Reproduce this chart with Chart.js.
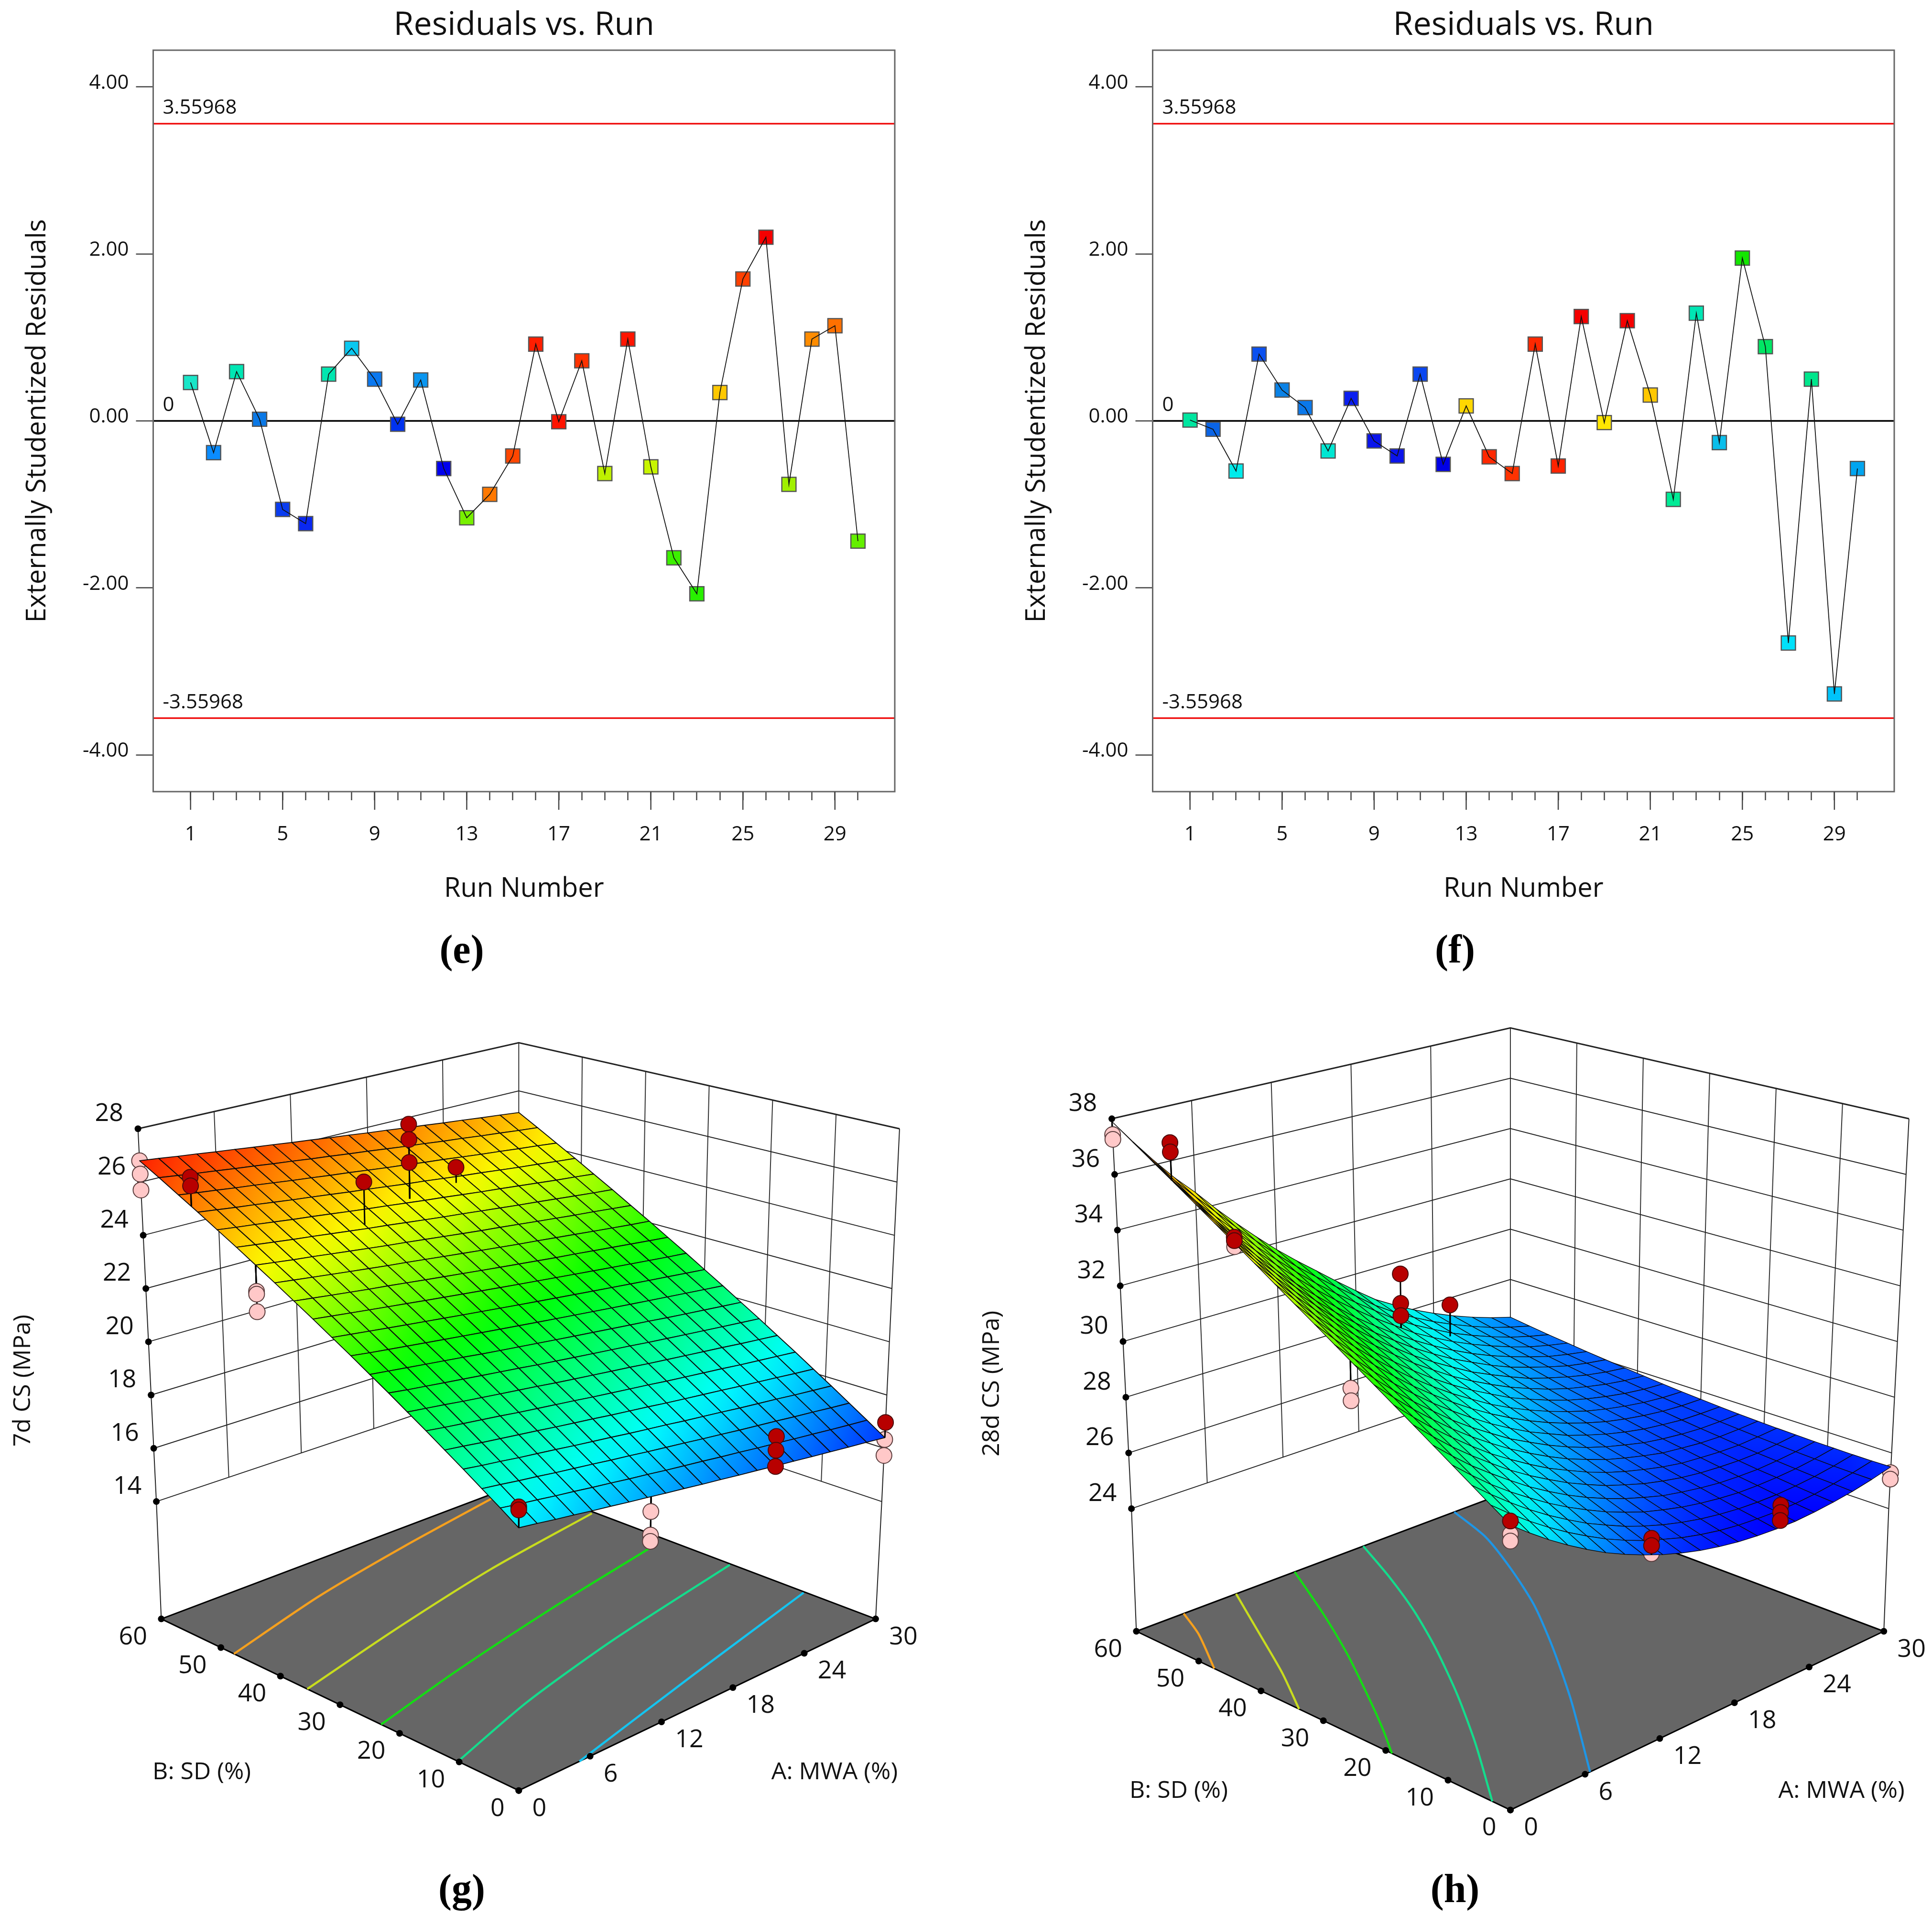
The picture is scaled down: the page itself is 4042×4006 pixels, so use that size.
<!DOCTYPE html>
<html lang="en">
<head>
<meta charset="UTF-8">
<title>Residuals vs. Run and response surfaces</title>
<script src="https://cdn.jsdelivr.net/npm/chart.js"></script>
<style>
  body { margin: 0; background: #fff; }
  #page { position: relative; width: 4042px; height: 4006px; overflow: hidden; }
  canvas { position: absolute; }
  .cap { position: absolute; font: bold 84px "Liberation Serif", serif; color: #000; transform: translate(-50%, -50%); }
</style>
</head>
<body>
<div id="page">
  <canvas id="chartE" width="2000" height="2000" style="left:0;top:0"></canvas>
  <canvas id="chartF" width="2000" height="2000" style="left:2091px;top:0"></canvas>
  <canvas id="chartG" width="2000" height="1926" style="left:0;top:2080px"></canvas>
  <canvas id="chartH" width="2000" height="1926" style="left:2040px;top:2080px"></canvas>
  <div class="cap" style="left:966px;top:1985px">(e)</div>
  <div class="cap" style="left:3044px;top:1985px">(f)</div>
  <div class="cap" style="left:966px;top:3950px">(g)</div>
  <div class="cap" style="left:3044px;top:3950px">(h)</div>
</div>
<script>
// residual panels
const runs = [1,2,3,4,5,6,7,8,9,10,11,12,13,14,15,16,17,18,19,20,21,22,23,24,25,26,27,28,29,30];
const runTickLabels = [1,5,9,13,17,21,25,29];
const residualTicks = [-4,-2,0,2,4];
const limitValue = 3.55968;

const residualsE = [0.46,-0.38,0.59,0.02,-1.06,-1.23,0.56,0.87,0.50,-0.04,0.49,-0.57,-1.16,-0.88,-0.42,0.92,-0.01,0.72,-0.63,0.98,-0.55,-1.64,-2.07,0.34,1.70,2.20,-0.76,0.98,1.14,-1.44];
const colorsE = ['#19e6c8','#0a8cff','#00e6b4','#0a78e6','#0a3cf0','#0a28f0','#00e6b0','#0ac8f0','#0a78f0','#0032f0','#0a96f0','#0000ee','#78f000','#ff7800','#ff4600','#ff1e00','#ff1400','#ff3200','#bef000','#ff1400','#c8f500','#3cf000','#28f000','#ffc800','#ff4000','#f50000','#a0f000','#ff8c00','#ff7000','#64f000'];

const residualsF = [0.01,-0.10,-0.60,0.80,0.37,0.16,-0.36,0.27,-0.24,-0.42,0.56,-0.52,0.18,-0.43,-0.63,0.92,-0.54,1.25,-0.02,1.20,0.31,-0.94,1.29,-0.26,1.95,0.89,-2.66,0.50,-3.27,-0.57];
const colorsF = ['#00e6a0','#0a64e6','#00ebeb','#0a50f0','#0a82e6','#0a78eb','#00e6d2','#0a1ef0','#0a14eb','#0a14eb','#0a46f0','#0000e6','#ffd700','#ff2800','#ff3200','#ff2800','#ff2300','#f50000','#ffe600','#f50000','#ffc800','#00eb96','#00e6b4','#0abeeb','#14e600','#00e664','#00e1fa','#00e68c','#00c3fa','#00a5f0'];

// 3D panels, axis ticks
const tickA = [0,6,12,18,24,30];
const tickB = [0,10,20,30,40,50,60];
const tickZG = [14,16,18,20,22,24,26,28];
const tickZH = [24,26,28,30,32,34,36,38];

// surface heights, rows are B = 0,3,...,60 and columns A = 0,1.5,...,30
const surfaceG = [
[18.30,18.21,18.11,18.02,17.92,17.83,17.73,17.64,17.54,17.45,17.35,17.26,17.16,17.07,16.97,16.88,16.78,16.69,16.59,16.50,16.40],
[18.73,18.63,18.54,18.44,18.35,18.25,18.16,18.06,17.97,17.87,17.78,17.69,17.59,17.50,17.40,17.31,17.21,17.12,17.02,16.93,16.84],
[19.15,19.06,18.96,18.87,18.77,18.68,18.59,18.49,18.40,18.30,18.21,18.12,18.02,17.93,17.83,17.74,17.65,17.55,17.46,17.36,17.27],
[19.58,19.48,19.39,19.29,19.20,19.11,19.01,18.92,18.83,18.73,18.64,18.55,18.45,18.36,18.27,18.17,18.08,17.99,17.89,17.80,17.71],
[20.00,19.91,19.81,19.72,19.63,19.54,19.44,19.35,19.26,19.16,19.07,18.98,18.88,18.79,18.70,18.61,18.51,18.42,18.33,18.23,18.14],
[20.43,20.33,20.24,20.15,20.06,19.96,19.87,19.78,19.69,19.59,19.50,19.41,19.32,19.22,19.13,19.04,18.95,18.85,18.76,18.67,18.58],
[20.85,20.76,20.67,20.57,20.48,20.39,20.30,20.21,20.11,20.02,19.93,19.84,19.75,19.65,19.56,19.47,19.38,19.29,19.19,19.10,19.01],
[21.28,21.18,21.09,21.00,20.91,20.82,20.73,20.64,20.54,20.45,20.36,20.27,20.18,20.09,19.99,19.90,19.81,19.72,19.63,19.54,19.45],
[21.70,21.61,21.52,21.43,21.34,21.25,21.15,21.06,20.97,20.88,20.79,20.70,20.61,20.52,20.43,20.34,20.24,20.15,20.06,19.97,19.88],
[22.13,22.03,21.94,21.85,21.76,21.67,21.58,21.49,21.40,21.31,21.22,21.13,21.04,20.95,20.86,20.77,20.68,20.59,20.50,20.41,20.32],
[22.55,22.46,22.37,22.28,22.19,22.10,22.01,21.92,21.83,21.74,21.65,21.56,21.47,21.38,21.29,21.20,21.11,21.02,20.93,20.84,20.75],
[22.98,22.89,22.80,22.71,22.62,22.53,22.44,22.35,22.26,22.17,22.08,21.99,21.90,21.81,21.72,21.63,21.54,21.45,21.36,21.27,21.19],
[23.40,23.31,23.22,23.13,23.04,22.96,22.87,22.78,22.69,22.60,22.51,22.42,22.33,22.24,22.15,22.07,21.98,21.89,21.80,21.71,21.62],
[23.83,23.74,23.65,23.56,23.47,23.38,23.29,23.21,23.12,23.03,22.94,22.85,22.76,22.67,22.59,22.50,22.41,22.32,22.23,22.14,22.06],
[24.25,24.16,24.07,23.99,23.90,23.81,23.72,23.63,23.55,23.46,23.37,23.28,23.19,23.11,23.02,22.93,22.84,22.75,22.67,22.58,22.49],
[24.68,24.59,24.50,24.41,24.33,24.24,24.15,24.06,23.98,23.89,23.80,23.71,23.63,23.54,23.45,23.36,23.28,23.19,23.10,23.01,22.93],
[25.10,25.01,24.93,24.84,24.75,24.67,24.58,24.49,24.40,24.32,24.23,24.14,24.06,23.97,23.88,23.80,23.71,23.62,23.53,23.45,23.36],
[25.53,25.44,25.35,25.27,25.18,25.09,25.01,24.92,24.83,24.75,24.66,24.57,24.49,24.40,24.31,24.23,24.14,24.05,23.97,23.88,23.80],
[25.95,25.86,25.78,25.69,25.61,25.52,25.43,25.35,25.26,25.18,25.09,25.00,24.92,24.83,24.75,24.66,24.57,24.49,24.40,24.32,24.23],
[26.38,26.29,26.20,26.12,26.03,25.95,25.86,25.78,25.69,25.61,25.52,25.44,25.35,25.26,25.18,25.09,25.01,24.92,24.84,24.75,24.67],
[26.80,26.72,26.63,26.55,26.46,26.38,26.29,26.21,26.12,26.04,25.95,25.87,25.78,25.70,25.61,25.53,25.44,25.36,25.27,25.19,25.10]
];
const surfaceH = [
[28.70,28.21,27.75,27.33,26.94,26.58,26.27,25.99,25.74,25.53,25.35,25.21,25.10,25.03,24.99,24.98,25.02,25.09,25.19,25.33,25.50],
[29.10,28.59,28.11,27.67,27.26,26.89,26.54,26.24,25.97,25.75,25.54,25.38,25.25,25.16,25.11,25.08,25.09,25.14,25.23,25.34,25.49],
[29.51,28.98,28.48,28.01,27.58,27.19,26.82,26.51,26.21,25.96,25.74,25.56,25.41,25.30,25.22,25.18,25.17,25.20,25.26,25.36,25.49],
[29.93,29.37,28.84,28.36,27.92,27.50,27.12,26.78,26.46,26.19,25.94,25.75,25.58,25.45,25.35,25.28,25.26,25.27,25.31,25.39,25.50],
[30.35,29.77,29.22,28.73,28.26,27.81,27.41,27.04,26.71,26.42,26.16,25.94,25.74,25.60,25.48,25.39,25.35,25.33,25.36,25.42,25.51],
[30.78,30.18,29.61,29.09,28.60,28.13,27.71,27.33,26.97,26.66,26.37,26.14,25.92,25.75,25.61,25.51,25.45,25.41,25.41,25.46,25.53],
[31.21,30.59,30.00,29.46,28.94,28.45,28.02,27.61,27.23,26.91,26.60,26.33,26.11,25.92,25.75,25.62,25.55,25.49,25.47,25.50,25.55],
[31.65,31.01,30.40,29.83,29.29,28.79,28.33,27.90,27.51,27.15,26.82,26.55,26.29,26.09,25.91,25.75,25.66,25.58,25.54,25.55,25.58],
[32.09,31.42,30.80,30.21,29.66,29.12,28.64,28.20,27.77,27.41,27.06,26.75,26.48,26.25,26.06,25.88,25.76,25.67,25.61,25.60,25.61],
[32.54,31.85,31.20,30.59,30.02,29.47,28.97,28.50,28.06,27.66,27.29,26.98,26.67,26.43,26.21,26.03,25.88,25.78,25.69,25.66,25.65],
[33.00,32.29,31.62,30.99,30.39,29.82,29.30,28.81,28.35,27.93,27.55,27.20,26.89,26.62,26.38,26.17,26.01,25.88,25.78,25.72,25.70],
[33.46,32.74,32.03,31.39,30.76,30.18,29.63,29.12,28.64,28.21,27.79,27.43,27.10,26.81,26.55,26.32,26.14,25.99,25.87,25.79,25.75],
[33.93,33.19,32.46,31.79,31.15,30.54,29.98,29.44,28.94,28.48,28.06,27.68,27.31,27.01,26.73,26.48,26.28,26.11,25.97,25.87,25.81],
[34.41,33.64,32.90,32.21,31.55,30.91,30.33,29.78,29.25,28.78,28.32,27.92,27.55,27.21,26.92,26.65,26.42,26.24,26.08,25.96,25.88],
[34.89,34.10,33.33,32.62,31.94,31.28,30.68,30.11,29.57,29.06,28.60,28.18,27.77,27.43,27.11,26.81,26.58,26.37,26.19,26.05,25.95],
[35.38,34.57,33.78,33.05,32.35,31.67,31.04,30.45,29.88,29.37,28.87,28.43,28.01,27.65,27.30,26.99,26.74,26.51,26.30,26.15,26.03],
[35.87,35.04,34.24,33.47,32.75,32.05,31.41,30.80,30.20,29.67,29.16,28.69,28.26,27.86,27.50,27.18,26.90,26.65,26.42,26.25,26.11],
[36.37,35.52,34.69,33.92,33.20,32.50,31.83,31.19,30.59,30.03,29.49,29.00,28.50,28.09,27.71,27.37,27.07,26.79,26.55,26.36,26.20],
[36.87,36.00,35.16,34.40,33.68,32.94,32.26,31.60,30.97,30.39,29.84,29.31,28.78,28.33,27.93,27.55,27.23,26.94,26.68,26.47,26.29],
[37.38,36.50,35.66,34.90,34.15,33.41,32.70,32.02,31.37,30.77,30.19,29.63,29.05,28.56,28.14,27.75,27.41,27.10,26.82,26.59,26.39],
[37.90,37.00,36.15,35.35,34.64,33.86,33.13,32.43,31.76,31.14,30.55,29.95,29.37,28.81,28.37,27.96,27.60,27.27,26.98,26.72,26.50]
];

// design points as [A, B, response], above the surface (red) and below it (pink)
const redG = [[0,52,26.75],[0,52,26.43],[10.5,45.6,25.77],[15.6,48.6,27.16],[15.6,48.6,26.57],[15.6,48.6,25.68],[20,50,24.84],[0,0,19.0],[0,0,18.9],[21,0,18.04],[21,0,17.54],[21,0,16.95],[30,0,16.97]];
const pinkG = [[0,60,26.8],[0,60,26.3],[0,60,25.7],[0,42,23.3],[0,42,23.2],[0,42,22.56],[10.8,0,17.1],[10.8,0,16.28],[10.8,0,16.06],[30,0,16.33],[30,0,15.73]];
const redH = [[0,51.3,37.75],[0,51.3,37.42],[0,42,35.1],[0,42,34.98],[17,51,30.85],[17,51,29.75],[17,51,29.29],[21.6,52.6,28.88],[0,0,28.83],[11.1,0,26.44],[11.1,0,26.2],[21.3,0,25.76],[21.3,0,25.51],[21.3,0,25.23]];
const pinkH = [[0,60,37.43],[0,60,37.26],[0,42,34.77],[0,24.6,31.26],[0,24.6,30.84],[0,0,28.41],[0,0,28.19],[11.1,0,25.93],[30,0,25.29],[30,0,25.06]];

// contour lines on the floor
const contourColorsG = ['#f5a01e','#c8dc1e','#14dc14','#14dc8c','#14c4f0'];
const contourAG = [[0,9.5,18.5,27.2],[0,9.2,19.7,29.8],[0,8,18.4,28.5],[0,8.3,17.7,29.9],[5.1,17.6,29.9]];
const contourBG = [[47.8,52.5,56,59],[35.5,39.7,44.1,47.3],[23.1,26.8,31.1,34.9],[10.2,15.2,19.6,24.3],[0,5.9,11.9]];
const contourColorsH = ['#f5a01e','#c8dc1e','#14dc14','#14dc8c','#1e96e6'];
const contourAH = [[0,2.5,3.8],[0,2.55,5.1,8],[0,1.8,4.05,7.1,9.9,12.7],[0,4.3,7.9,11.3,13.9,16.2,18.2],[6.4,11.9,16.1,19.4,22,24.2,25.5]];
const contourBH = [[47.5,55,60],[33.9,41.7,50.3,60],[19,24.1,30.9,40.4,49.9,60],[2.9,14.2,24.3,34.6,43.2,51.8,60],[0,14,25.4,35,43.9,52.4,60]];

// surface colour ramps, heights and colours
const rampZG = [15.8,18.6,21.6,24.2,26.8];
const rampZH = [25,28,31,34.5,37.9];
const rampColors = [[0,0,255],[0,255,255],[0,255,0],[255,255,0],[255,32,0]];

// box corners in view units, order: A0B0, A30B0, A0B60, A30B60
const viewG = {
  floor: [[846,1350],[1428,1059],[263,1059],[846,830]],
  low: [[846,1122],[1438,860],[255,860],[846,654]],
  high: [[846,414],[1467,228],[225,228],[846,82]]
};
const viewH = {
  floor: [[873,1383],[1482,1080],[263,1080],[873,842]],
  low: [[873,1149],[1490,872],[255,872],[873,654]],
  high: [[873,407],[1523,211],[223,211],[873,57]]
};

const FONT = '"Open Sans", sans-serif';

function makeResiduals(id, values, colors) {
  const labelsPlugin = {
    id: 'labels',
    afterDraw(chart) {
      const { ctx, chartArea: area, scales } = chart;
      ctx.save();
      ctx.strokeStyle = '#666';
      ctx.lineWidth = 3;
      ctx.strokeRect(area.left, area.top, area.width, area.height);
      // longer ticks at labelled runs
      ctx.strokeStyle = '#444';
      ctx.lineWidth = 2.5;
      runTickLabels.forEach(v => {
        const x = scales.x.getPixelForValue(v);
        ctx.beginPath();
        ctx.moveTo(x, area.bottom);
        ctx.lineTo(x, area.bottom + 38);
        ctx.stroke();
      });
      ctx.fillStyle = '#111';
      ctx.font = '68px ' + FONT;
      ctx.textAlign = 'center';
      ctx.textBaseline = 'middle';
      ctx.fillText('Residuals vs. Run', (area.left + area.right) / 2, 54);
      ctx.font = '42px ' + FONT;
      ctx.textAlign = 'left';
      const lx = area.left + 20;
      ctx.fillText(limitValue.toString(), lx, scales.y.getPixelForValue(limitValue) - 33);
      ctx.fillText('0', lx, scales.y.getPixelForValue(0) - 32);
      ctx.fillText('-' + limitValue, lx, scales.y.getPixelForValue(-limitValue) - 32);
      ctx.restore();
    }
  };
  return new Chart(document.getElementById(id), {
    type: 'scatter',
    data: {
      datasets: [
        { data: [{x:-0.624,y:limitValue},{x:31.6,y:limitValue}], showLine: true, borderColor: '#f01414', borderWidth: 3.5, pointRadius: 0, order: 4 },
        { data: [{x:-0.624,y:-limitValue},{x:31.6,y:-limitValue}], showLine: true, borderColor: '#f01414', borderWidth: 3.5, pointRadius: 0, order: 4 },
        { data: [{x:-0.624,y:0},{x:31.6,y:0}], showLine: true, borderColor: '#000', borderWidth: 3.5, pointRadius: 0, order: 3 },
        { data: runs.map((r, i) => ({x:r, y:values[i]})), pointStyle: 'rect', pointRadius: 21, backgroundColor: colors, borderColor: '#555', borderWidth: 2.5, order: 2 },
        { data: runs.map((r, i) => ({x:r, y:values[i]})), showLine: true, borderColor: '#111', borderWidth: 1.8, pointRadius: 0, order: 1 }
      ]
    },
    options: {
      responsive: false,
      animation: false,
      devicePixelRatio: 1,
      layout: { padding: { left: 45, top: 105, right: 128, bottom: 106 } },
      plugins: { legend: { display: false }, tooltip: { enabled: false } },
      scales: {
        x: {
          min: -0.624, max: 31.6,
          afterBuildTicks: s => { s.ticks = runs.map(v => ({value: v})); },
          afterFit: s => { s.height = 238; },
          grid: { drawOnChartArea: false, tickLength: 18, tickColor: '#444', tickWidth: 2.5 },
          border: { display: false },
          ticks: { autoSkip: false, maxRotation: 0, padding: 47, color: '#111', font: { family: FONT, size: 42 },
            callback: v => runTickLabels.includes(v) ? String(v) : '' },
          title: { display: true, text: 'Run Number', color: '#111', padding: 0, font: { family: FONT, size: 56 } }
        },
        y: {
          min: -4.44, max: 4.44,
          afterBuildTicks: s => { s.ticks = residualTicks.map(v => ({value: v})); },
          afterFit: s => { s.width = 275.5; },
          grid: { drawOnChartArea: false, tickLength: 36, tickColor: '#444', tickWidth: 2.5 },
          border: { display: false },
          ticks: { padding: 15, labelOffset: -8, color: '#111', font: { family: FONT, size: 42 },
            callback: v => v.toFixed(2) },
          title: { display: true, text: 'Externally Studentized Residuals', color: '#111', padding: 0, font: { family: FONT, size: 56 } }
        }
      }
    },
    plugins: [labelsPlugin]
  });
}

function bilerp(c, a, b, k) {
  return c[0][k]*(1-a)*(1-b) + c[1][k]*a*(1-b) + c[2][k]*(1-a)*b + c[3][k]*a*b;
}

function rampColor(z, ramp) {
  let i = 0;
  while (i < ramp.length - 2 && z > ramp[i+1]) i++;
  const t = Math.max(0, Math.min(1, (z - ramp[i]) / (ramp[i+1] - ramp[i])));
  const c = rampColors[i].map((v, k) => Math.round(v + (rampColors[i+1][k] - v) * t));
  return `rgb(${c[0]},${c[1]},${c[2]})`;
}

function makeSurface(id, o) {
  const zMin = o.tickZ[0], zMax = o.tickZ[o.tickZ.length - 1];
  const at = (A, B, z) => {
    const a = A/30, b = B/60, u = (z - zMin)/(zMax - zMin);
    const lx = bilerp(o.view.low,a,b,0), ly = bilerp(o.view.low,a,b,1);
    return { x: lx + (bilerp(o.view.high,a,b,0)-lx)*u, y: ly + (bilerp(o.view.high,a,b,1)-ly)*u };
  };
  const onFloor = (A, B) => ({ x: bilerp(o.view.floor,A/30,B/60,0), y: bilerp(o.view.floor,A/30,B/60,1) });
  const heightAt = (A, B) => {
    const i = Math.min(19, Math.floor(A/1.5)), j = Math.min(19, Math.floor(B/3));
    const s = A/1.5 - i, t = B/3 - j, g = o.surface;
    return g[j][i]*(1-s)*(1-t) + g[j][i+1]*s*(1-t) + g[j+1][i]*(1-s)*t + g[j+1][i+1]*s*t;
  };
  const line = (data, order, color, width) => ({ data, showLine: true, pointRadius: 0, borderColor: color, borderWidth: width, order });
  const datasets = [];

  // floor polygon and its outline
  const floorCorners = [onFloor(0,0),onFloor(30,0),onFloor(30,60),onFloor(0,60)];
  datasets.push({ data: floorCorners, polygon: '#666666', showLine: false, pointRadius: 0, order: 60 });
  datasets.push(line([...floorCorners, floorCorners[0]], 59, '#000', 3));

  // back walls
  o.tickZ.forEach((z, n) => {
    const w = n === o.tickZ.length - 1 ? 3 : 2;
    datasets.push(line([at(0,60,z), at(30,60,z), at(30,0,z)], 50, '#222', w));
  });
  tickA.slice(1,-1).forEach(A => datasets.push(line([at(A,60,zMin), at(A,60,zMax)], 50, '#333', 2)));
  tickB.slice(1,-1).forEach(B => datasets.push(line([at(30,B,zMin), at(30,B,zMax)], 50, '#333', 2)));
  datasets.push(line([at(30,60,zMin), at(30,60,zMax)], 50, '#333', 2));
  datasets.push(line([onFloor(0,60), at(0,60,zMin), at(0,60,zMax)], 50, '#222', 2));
  datasets.push(line([onFloor(30,0), at(30,0,zMin), at(30,0,zMax)], 50, '#222', 2));

  // contours
  o.contourA.forEach((row, n) => {
    datasets.push({ ...line(row.map((A, k) => onFloor(A, o.contourB[n][k])), 45, o.contourColors[n], 4.5), tension: 0.25 });
  });

  // axis dots
  const dots = { pointRadius: 7, backgroundColor: '#000', borderWidth: 0, showLine: false, order: 44 };
  datasets.push({ ...dots, data: o.tickZ.map(z => at(0,60,z)) });
  datasets.push({ ...dots, data: tickA.map(A => onFloor(A,0)) });
  datasets.push({ ...dots, data: tickB.map(B => onFloor(0,B)) });

  // points under the surface
  o.pink.forEach(p => datasets.push(line([at(p[0],p[1],p[2]), at(p[0],p[1],heightAt(p[0],p[1]))], 40, '#000', 3)));
  datasets.push({ data: o.pink.map(p => at(p[0],p[1],p[2])), showLine: false, pointRadius: 16.5, backgroundColor: '#ffc8c8', borderColor: '#5a3c3c', borderWidth: 2, order: 35 });

  // mesh vertices, filled by the plugin below
  const meshVertices = [];
  o.surface.forEach((row, j) => row.forEach((z, i) => meshVertices.push(at(i*1.5, j*3, z))));
  datasets.push({ data: meshVertices, mesh: true, showLine: false, pointRadius: 0, order: 30 });

  // points above the surface
  o.red.forEach(p => datasets.push(line([at(p[0],p[1],p[2]), at(p[0],p[1],heightAt(p[0],p[1]))], 20, '#000', 3)));
  datasets.push({ data: o.red.map(p => at(p[0],p[1],p[2])), showLine: false, pointRadius: 16.5, backgroundColor: '#b80000', borderColor: '#4a0a0a', borderWidth: 2, order: 10 });

  const surfacePlugin = {
    id: 'surface',
    beforeDatasetDraw(chart, args) {
      const ds = chart.data.datasets[args.index];
      const { ctx } = chart;
      const pts = args.meta.data;
      if (ds.polygon) {
        ctx.save();
        ctx.fillStyle = ds.polygon;
        ctx.beginPath();
        pts.forEach((p, n) => n ? ctx.lineTo(p.x, p.y) : ctx.moveTo(p.x, p.y));
        ctx.closePath();
        ctx.fill();
        ctx.restore();
      }
      if (ds.mesh) {
        ctx.save();
        ctx.lineJoin = 'round';
        ctx.strokeStyle = '#0a0a0a';
        ctx.lineWidth = o.meshWidth;
        // back corner first so nearer cells paint over farther ones
        for (let j = 19; j >= 0; j--) {
          for (let i = 19; i >= 0; i--) {
            const idx = [j*21+i, j*21+i+1, (j+1)*21+i+1, (j+1)*21+i];
            const zs = [o.surface[j][i], o.surface[j][i+1], o.surface[j+1][i+1], o.surface[j+1][i]];
            const lo = zs.indexOf(Math.min(...zs)), hi = zs.indexOf(Math.max(...zs));
            const grad = ctx.createLinearGradient(pts[idx[lo]].x, pts[idx[lo]].y, pts[idx[hi]].x, pts[idx[hi]].y);
            grad.addColorStop(0, rampColor(zs[lo], o.ramp));
            grad.addColorStop(1, rampColor(zs[hi], o.ramp));
            ctx.fillStyle = grad;
            ctx.beginPath();
            idx.forEach((k, n) => n ? ctx.lineTo(pts[k].x, pts[k].y) : ctx.moveTo(pts[k].x, pts[k].y));
            ctx.closePath();
            ctx.fill();
            ctx.stroke();
          }
        }
        ctx.restore();
      }
    },
    afterDraw(chart) {
      const { ctx, scales } = chart;
      const px = p => [scales.x.getPixelForValue(p.x), scales.y.getPixelForValue(p.y)];
      const sx = scales.x.getPixelForValue(1) - scales.x.getPixelForValue(0);
      const sy = scales.y.getPixelForValue(1) - scales.y.getPixelForValue(0);
      ctx.save();
      ctx.fillStyle = '#111';
      ctx.textBaseline = 'middle';
      ctx.font = '52px ' + FONT;
      ctx.textAlign = 'right';
      o.tickZ.forEach(z => {
        const [x, y] = px(at(0,60,z));
        ctx.fillText(String(z), x - 24*sx, y - 25*sy);
      });
      tickB.forEach(B => {
        const [x, y] = px(onFloor(0,B));
        ctx.fillText(String(B), x - 23*sx, y + 31*sy);
      });
      ctx.textAlign = 'left';
      tickA.forEach(A => {
        const [x, y] = px(onFloor(A,0));
        ctx.fillText(String(A), x + 22*sx, y + 31*sy);
      });
      ctx.font = '50px ' + FONT;
      ctx.textAlign = 'center';
      let [x, y] = px(o.labelB);
      ctx.fillText('B: SD (%)', x, y);
      [x, y] = px(o.labelA);
      ctx.fillText('A: MWA (%)', x, y);
      [x, y] = px(o.labelZ);
      ctx.translate(x, y);
      ctx.rotate(-Math.PI/2);
      ctx.fillText(o.titleZ, 0, 0);
      ctx.restore();
    }
  };

  return new Chart(document.getElementById(id), {
    type: 'scatter',
    data: { datasets },
    options: {
      responsive: false,
      animation: false,
      devicePixelRatio: 1,
      layout: { padding: 0, autoPadding: false },
      plugins: { legend: { display: false }, tooltip: { enabled: false } },
      scales: {
        x: { display: false, min: 0, max: 1559 },
        y: { display: false, min: 0, max: 1561, reverse: true }
      }
    },
    plugins: [surfacePlugin]
  });
}

makeResiduals('chartE', residualsE, colorsE);
makeResiduals('chartF', residualsF, colorsF);

makeSurface('chartG', {
  view: viewG, surface: surfaceG, tickZ: tickZG, ramp: rampZG, red: redG, pink: pinkG, meshWidth: 1.9,
  contourA: contourAG, contourB: contourBG, contourColors: contourColorsG,
  titleZ: '7d CS (MPa)', labelZ: {x:38,y:655}, labelB: {x:329,y:1319}, labelA: {x:1361,y:1319}
});
makeSurface('chartH', {
  view: viewH, surface: surfaceH, tickZ: tickZH, ramp: rampZH, red: redH, pink: pinkH, meshWidth: 1.4,
  contourA: contourAH, contourB: contourBH, contourColors: contourColorsH,
  titleZ: '28d CS (MPa)', labelZ: {x:28,y:660}, labelB: {x:332,y:1351}, labelA: {x:1413,y:1351}
});
</script>
</body>
</html>
